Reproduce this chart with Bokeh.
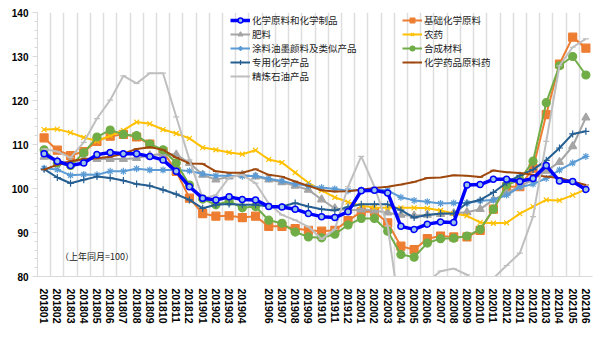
from bokeh.plotting import figure
from bokeh.models import (Range1d, FixedTicker, SingleIntervalTicker, Legend, LegendItem, Label)
from bokeh.embed import file_html
from bokeh.resources import INLINE

months = ["201801", "201802", "201803", "201804", "201805", "201806", "201807", "201808",
          "201809", "201810", "201811", "201812", "201901", "201902", "201903", "201904",
          "", "201906", "201907", "201908", "201909", "201910", "201911", "201912",
          "202001", "202002", "202003", "202004", "202005", "202006", "202007", "202008",
          "202009", "202010", "202011", "202012", "202101", "202102", "202103", "202104",
          "202105", "202106"]

chem = [107.9, 106.2, 105.2, 105.8, 107.7, 108.2, 107.9, 107.9, 107.3, 106.5, 103.9, 100.4, 97.8, 97.4,
        98.1, 97.5, 97.4, 95.9, 95.8, 95.3, 94.3, 93.6, 93.4, 94.7, 99.5, 99.6, 99.0, 91.4, 90.7, 91.9,
        92.4, 92.3, 100.8, 100.9, 102.1, 102.1, 101.6, 102.3, 105.2, 101.7, 101.6, 99.8]
basic = [111.5, 108.7, 107.5, 108.4, 110.7, 111.9, 112.3, 111.7, 110.1, 108.4, 103.9, 97.8, 94.3, 93.7,
         93.8, 93.4, 93.7, 91.4, 91.4, 90.9, 90.5, 90.3, 90.5, 92.7, 94.7, 94.7, 92.2, 86.9, 86.1, 88.6,
         89.2, 89.0, 89.0, 90.5, 95.3, 100.4, 100.4, 104.6, 116.8, 128.3, 134.4, 131.9]
fert = [107.2, 106.2, 105.8, 106.7, 106.7, 106.7, 106.7, 106.9, 107.5, 107.9, 107.7, 105.8, 103.1, 102.0,
        102.7, 103.1, 102.7, 102.0, 101.4, 100.6, 99.7, 97.5, 95.5, 95.0, 95.2, 95.0, 94.5, 94.0, 93.8, 94.0,
        94.2, 94.4, 94.6, 95.3, 97.4, 99.0, 100.5, 102.0, 104.0, 106.0, 109.6, 116.1]
pest = [113.4, 113.5, 112.7, 111.6, 110.8, 112.0, 113.2, 115.1, 114.7, 113.4, 112.5, 111.4, 109.3, 108.8,
        108.2, 107.8, 108.7, 106.6, 105.9, 103.6, 101.3, 99.6, 98.0, 96.9, 96.1, 95.7, 95.6, 95.6, 95.6, 95.5,
        95.0, 94.3, 93.8, 92.3, 92.1, 92.2, 94.3, 95.9, 97.4, 97.3, 98.5, 99.8]
coat = [104.6, 104.3, 103.0, 103.2, 103.1, 103.9, 103.9, 104.5, 104.2, 104.2, 104.2, 104.0, 103.3, 102.9,
        102.9, 102.8, 102.9, 102.2, 101.7, 101.0, 100.6, 100.2, 99.9, 99.5, 99.7, 99.7, 99.6, 98.0, 97.3, 97.0,
        96.6, 96.7, 96.7, 97.2, 97.4, 98.5, 100.3, 101.0, 102.3, 104.2, 105.8, 107.3]
synth = [108.8, 105.8, 105.2, 108.1, 111.7, 113.3, 112.3, 112.0, 110.1, 108.8, 105.8, 100.8, 97.6, 96.3,
         97.1, 95.6, 95.9, 92.8, 92.1, 90.1, 89.0, 88.8, 89.6, 91.7, 93.2, 93.2, 90.3, 85.0, 84.4, 87.6,
         88.6, 88.7, 89.2, 90.7, 95.3, 100.8, 102.0, 106.2, 119.5, 127.9, 130.0, 125.8]
special = [104.4, 102.5, 101.2, 102.0, 102.7, 102.4, 101.8, 101.0, 100.6, 99.7, 98.7, 97.4, 95.5, 96.3,
           96.5, 96.3, 96.3, 95.9, 95.9, 96.7, 95.9, 95.3, 95.0, 95.8, 96.4, 96.4, 96.4, 95.1, 93.4, 94.0,
           94.3, 94.3, 96.7, 97.4, 99.1, 101.3, 103.0, 104.3, 106.4, 109.2, 112.4, 113.0]
drug = [104.3, 105.4, 106.2, 106.7, 106.9, 107.2, 107.9, 109.0, 109.4, 108.8, 107.0, 105.7, 105.6, 103.9,
        103.6, 103.6, 104.4, 103.1, 102.7, 101.6, 100.6, 99.6, 99.3, 99.4, 99.7, 100.1, 100.4, 100.9, 101.5,
        102.4, 102.5, 103.0, 102.9, 102.6, 104.1, 103.7, 103.5, 103.1, 102.7, 102.4, 101.6, 100.8]
refined = [109.0, 108.4, 107.0, 110.5, 115.9, 120.1, 125.6, 123.9, 126.2, 126.2, 116.3, 106.5, 97.8, 98.5,
           102.5, 103.1, 101.2, 96.6, 94.0, 92.8, 91.3, 88.5, 90.7, 100.4, 107.3, 100.4, 91.5, 70.0, 68.0,
           78.8, 81.2, 81.8, 80.4, 78.0, 79.6, 82.5, 85.3, 93.6, 110.7, 127.9, 132.1, 134.0]

x = list(range(len(months)))
CJK = "Noto Sans CJK SC"

p = figure(width=600, height=337, output_backend="svg", toolbar_location=None,
           x_range=Range1d(-0.5, len(months) - 0.5), y_range=Range1d(80, 140),
           min_border_left=37, min_border_right=8, min_border_top=12, min_border_bottom=61)
p.outline_line_color = None
p.background_fill_color = "white"

# axes
p.yaxis.ticker = SingleIntervalTicker(interval=10, num_minor_ticks=5)
p.yaxis.axis_line_color = "#d9d9d9"
p.yaxis.major_tick_line_color = "#d9d9d9"
p.yaxis.minor_tick_line_color = "#d9d9d9"
p.yaxis.major_tick_out = 5
p.yaxis.major_tick_in = 0
p.yaxis.minor_tick_out = 3
p.yaxis.minor_tick_in = 0
p.yaxis.major_label_text_font = "Liberation Sans"
p.yaxis.major_label_text_font_style = "bold"
p.yaxis.major_label_text_font_size = "10px"
p.yaxis.major_label_text_color = "black"
p.yaxis.major_label_standoff = 4

p.xaxis.ticker = FixedTicker(ticks=x)
p.xaxis.major_label_overrides = {i: m for i, m in zip(x, months)}
p.xaxis.major_label_orientation = "vertical"
p.xaxis.axis_line_color = "#d9d9d9"
p.xaxis.major_tick_line_color = None
p.xaxis.minor_tick_line_color = None
p.xaxis.major_label_text_font = "Liberation Sans"
p.xaxis.major_label_text_font_style = "bold"
p.xaxis.major_label_text_font_size = "10.5px"
p.xaxis.major_label_text_color = "black"
p.xaxis.major_label_standoff = 6

p.ygrid.grid_line_color = None
p.xgrid.ticker = FixedTicker(ticks=[i - 0.5 for i in range(len(months) + 1)])
p.xgrid.grid_line_color = "#dedede"
p.xgrid.grid_line_width = 1.5

series = [
    ("化学原料和化学制品", chem, "#0000ff", 3.5, "circle", 6, "#9dc3e6", "#0000ff"),
    ("基础化学原料", basic, "#ed7d31", 2, "square", 8, "#ed7d31", "#ed7d31"),
    ("肥料", fert, "#a5a5a5", 2, "triangle", 8, "#a5a5a5", "#a5a5a5"),
    ("农药", pest, "#ffc000", 2, "x", 7, "#ffc000", "#ffc000"),
    ("涂料油墨颜料及类似产品", coat, "#5b9bd5", 2, "asterisk", 7, "#5b9bd5", "#5b9bd5"),
    ("合成材料", synth, "#70ad47", 2, "circle", 8, "#70ad47", "#70ad47"),
    ("专用化学产品", special, "#255e91", 2, "cross", 7, "#255e91", "#255e91"),
    ("化学药品原料药", drug, "#9e480e", 2, "dash", 6, "#9e480e", "#9e480e"),
    ("精炼石油产品", refined, "#bfbfbf", 2, "dash", 6, "#bfbfbf", "#bfbfbf"),
]

items = {}
draw_order = [1, 2, 3, 4, 5, 6, 7, 8, 0]
for k in draw_order:
    name, ys, col, lw, mk, ms, fc, lc = series[k]
    r1 = p.line(x, ys, line_color=col, line_width=lw)
    r2 = p.scatter(x, ys, marker=mk, size=ms, fill_color=fc, line_color=lc,
                   line_width=1.5 if k == 0 else 1.2)
    items[k] = LegendItem(label=name, renderers=[r1, r2])

def make_legend(idx, loc):
    lg = Legend(items=[items[k] for k in idx], location=loc,
                label_text_font=CJK, label_text_font_size="9.5px",
                label_text_color="#222222", glyph_width=20, glyph_height=12,
                label_height=12, label_standoff=2, spacing=0,
                padding=0, margin=0, border_line_color=None,
                background_fill_alpha=0)
    return lg

p.add_layout(make_legend([0, 2, 4, 6, 8], (193, 193)), "center")
p.add_layout(make_legend([1, 3, 5, 7], (365, 207)), "center")

note = "（上年同月=100）"
p.add_layout(Label(x=4.0, y=84.6, text=note, text_font=CJK, text_font_size="9px",
                   text_align="center", text_baseline="middle", text_color="#222222"))

open("out.html", "w").write(file_html(p, INLINE))
